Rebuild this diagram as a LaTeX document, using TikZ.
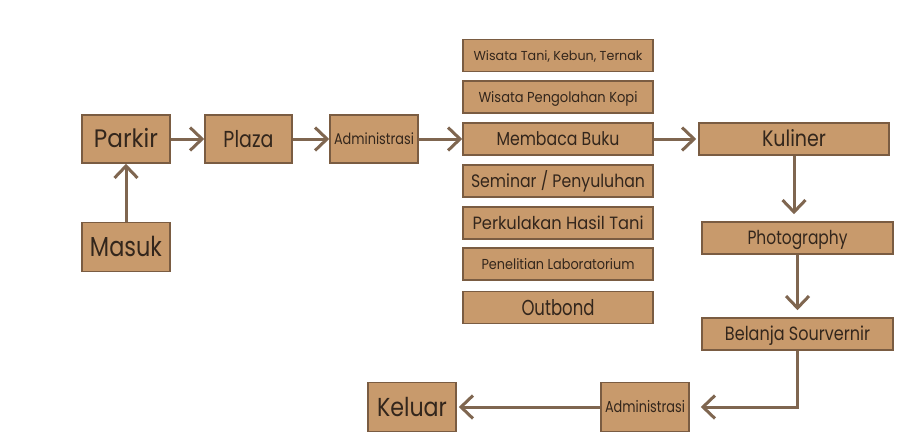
\documentclass[tikz,border=0pt]{standalone}
\usepackage{fontspec}
\usepackage{graphicx}
\setmainfont{Poppins}
\usetikzlibrary{arrows.meta}

\definecolor{boxfill}{HTML}{C89A6C}
\definecolor{boxline}{HTML}{7A5C42}
\definecolor{flowline}{HTML}{7F6650}
\definecolor{inkbrown}{HTML}{33261C}

% label set to a given width and cap height, centred on its capitals
\newcommand{\fitto}[3]{\resizebox{#1pt}{#2pt}{\smash{#3}\vphantom{A}}}

\tikzset{
  stagebox/.style={draw=boxline, fill=boxfill, line width=1.6pt,
    text=inkbrown, inner sep=0pt, anchor=center},
  flow/.style={draw=flowline, line width=3pt,
    -{Straight Barb[length=12pt,width=23pt,line width=3pt]}},
}

\begin{document}
\begin{tikzpicture}[x=1pt,y=-1pt]
\useasboundingbox[fill=white] (0,0) rectangle (910,439);

% entrance side
\node[stagebox, minimum width=88pt, minimum height=48pt] (parkir) at (126,139) {\fitto{64}{17.5}{Parkir}};
\node[stagebox, minimum width=88pt, minimum height=49pt] (masuk) at (126,247) {\fitto{72}{19}{Masuk}};
\node[stagebox, minimum width=87pt, minimum height=48pt] (plaza) at (248.5,139) {\fitto{50}{16}{Plaza}};
\node[stagebox, minimum width=88pt, minimum height=48pt] (adm1) at (374,139) {\fitto{80}{10.7}{Administrasi}};

% activity column
\node[stagebox, minimum width=190pt, minimum height=32pt] (tani) at (558,55.5) {\fitto{169}{9}{Wisata Tani, Kebun, Ternak}};
\node[stagebox, minimum width=190pt, minimum height=32pt] (kopi) at (558,97) {\fitto{159}{10}{Wisata Pengolahan Kopi}};
\node[stagebox, minimum width=190pt, minimum height=32pt] (buku) at (558,139) {\fitto{123}{13}{Membaca Buku}};
\node[stagebox, minimum width=190pt, minimum height=32pt] (seminar) at (558,181) {\fitto{174}{12.5}{Seminar / Penyuluhan}};
\node[stagebox, minimum width=190pt, minimum height=32pt] (kulak) at (558,223) {\fitto{171}{12.3}{Perkulakan Hasil Tani}};
\node[stagebox, minimum width=190pt, minimum height=32pt] (lab) at (558,264) {\fitto{153}{10}{Penelitian Laboratorium}};
\node[stagebox, minimum width=190pt, minimum height=32pt] (outbond) at (558,307.5) {\fitto{73}{15}{Outbond}};

% exit side
\node[stagebox, minimum width=190pt, minimum height=32pt] (kuliner) at (794,139) {\fitto{64}{15.5}{Kuliner}};
\node[stagebox, minimum width=191pt, minimum height=32pt] (photo) at (797.5,238) {\fitto{100}{13.3}{Photography}};
\node[stagebox, minimum width=191pt, minimum height=32pt] (belanja) at (797.5,334) {\fitto{145}{13.3}{Belanja Sourvernir}};
\node[stagebox, minimum width=88pt, minimum height=49pt] (adm2) at (645,407) {\fitto{80}{11}{Administrasi}};
\node[stagebox, minimum width=88pt, minimum height=49pt] (keluar) at (412,407) {\fitto{70}{18}{Keluar}};

% connectors
\draw[flow] (masuk.north) -- (parkir.south);
\draw[flow] (parkir.east) -- (plaza.west);
\draw[flow] (plaza.east) -- (adm1.west);
\draw[flow] (adm1.east) -- (buku.west);
\draw[flow, shorten >=2pt] (buku.east) -- (kuliner.west);
\draw[flow, shorten >=7pt] (kuliner.south) -- (kuliner.south |- photo.north);
\draw[flow, shorten >=7pt] (photo.south) -- (belanja.north);
\draw[flow, shorten >=11pt] (belanja.south) |- (adm2.east);
\draw[flow, shorten >=2pt] (adm2.west) -- (keluar.east);
\end{tikzpicture}
\end{document}
